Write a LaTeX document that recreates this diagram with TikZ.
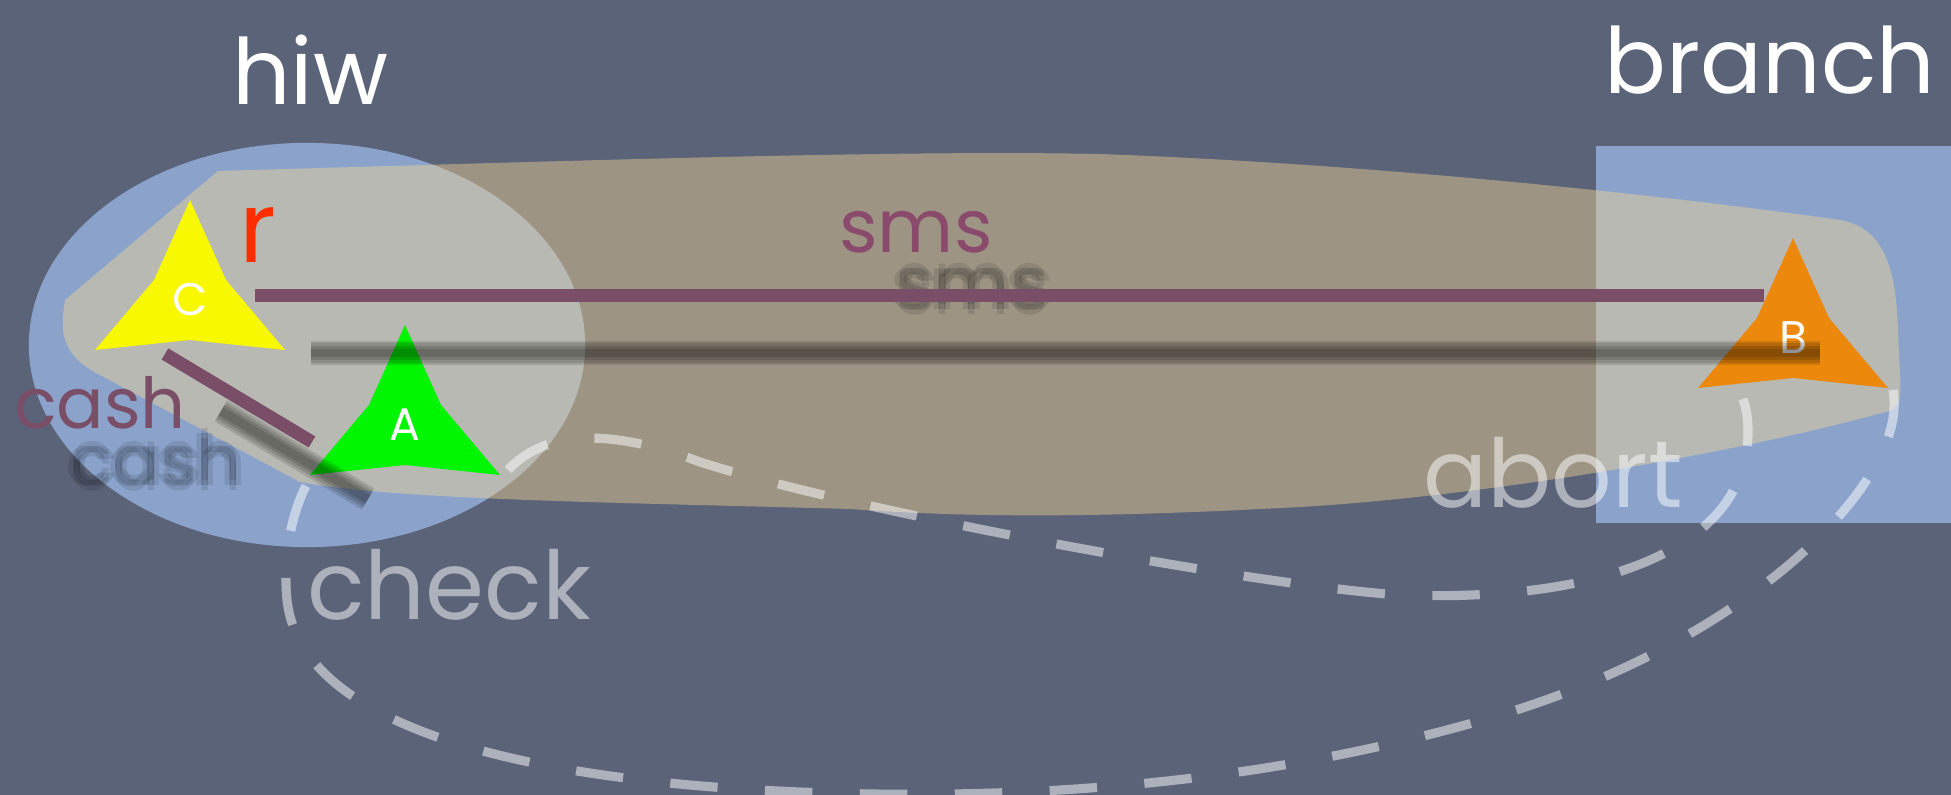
\documentclass[tikz,border=0pt]{standalone}
\usepackage{fontspec}
\setmainfont{Poppins}
\usetikzlibrary{calc}

\definecolor{slate}{RGB}{91,99,120}
\definecolor{hiwblue}{RGB}{139,163,203}
\definecolor{sand}{RGB}{244,214,149}
\definecolor{plum}{RGB}{123,78,104}
\definecolor{plumtext}{RGB}{138,74,108}
\definecolor{chalkred}{RGB}{255,45,0}
\definecolor{agentyellow}{RGB}{248,248,0}
\definecolor{agentgreen}{RGB}{0,245,0}
\definecolor{agentorange}{RGB}{236,136,12}

\tikzset{
  title/.style={text=white, font=\fontsize{26}{30}\selectfont, anchor=base},
  tag/.style={text=white, font=\fontsize{13}{15}\selectfont},
  link/.style={draw=plum, line width=3.7pt},
  linkshadow/.style={draw=black, line width=#1, opacity=0.13},
  hop/.style={draw=white, opacity=0.5, line width=2.6pt, dash pattern=on 13.5pt off 13.5pt},
  hoplabel/.style={text=white, text opacity=0.5, font=\fontsize{27}{30}\selectfont, anchor=base},
  msg/.style={text=plumtext, font=\fontsize{21}{24}\selectfont, anchor=base},
  msgshadow/.style={text=black, text opacity=0.1, anchor=base},
}

% agent: name, centre, colour, letter
\newcommand{\triagent}[4]{%
  \fill[#3,shift={(#2)}] (0,-100) -- (36,-20) -- (95,50) -- (0,40) -- (-95,50) -- (-36,-20) -- cycle;
  \node[tag] (#1) at (#2) {#4};
}

\begin{document}
\begin{tikzpicture}[x=0.01cm,y=-0.01cm]
  \clip (0,0) rectangle (1951,795);
  % Board
  \fill[slate] (0,0) rectangle (1951,795);
  % hiw and branch areas
  \fill[hiwblue] (307,345) ellipse [x radius=2.78cm, y radius=2.02cm];
  \fill[hiwblue] (1596,146) rectangle (1951,523);
  % Shared band
  \fill[sand,opacity=0.43] (218,171) .. controls (600,160) and (900,150) .. (1100,154)
    .. controls (1400,165) and (1700,200) .. (1840,220)
    .. controls (1885,228) and (1896,270) .. (1898,330)
    .. controls (1900,390) and (1905,405) .. (1889,411)
    .. controls (1750,450) and (1500,495) .. (1300,507)
    .. controls (1150,515) and (1000,520) .. (850,509)
    .. controls (600,502) and (400,500) .. (300,482)
    -- (100,375) .. controls (60,355) and (60,330) .. (65,300) -- cycle;
  % Agents
  \triagent{C}{190,300}{agentyellow}{C}
  \triagent{A}{405,425}{agentgreen}{A}
  \triagent{B}{1793,338}{agentorange}{B}
  % check and abort
  \draw[hop] ($(B)+(100,52)$) .. controls (1910,480) and (1750,640) .. (1500,715)
    .. controls (1250,790) and (1000,800) .. (800,792)
    .. controls (500,780) and (300,720) .. (287,600)
    .. controls (283,560) and (290,515) .. ($(A)+(-97,57)$);
  \draw[hop] ($(A)+(103,45)$) .. controls (545,430) and (610,428) .. (700,462)
    .. controls (850,510) and (1250,585) .. (1400,595)
    .. controls (1620,603) and (1750,540) .. (1748,430)
    .. controls (1748,405) and (1740,388) .. ($(B)+(-64,40)$);
  \node[hoplabel] (check) at (449,620) {check};
  \node[hoplabel] (abort) at (1553,508) {abort};
  % Shadows
  \foreach \w in {7pt,5.5pt,4pt,2.5pt} {
    \draw[linkshadow=\w] ($(C)+(121,53)$) -- ($(B)+(27,15)$);
    \draw[linkshadow=\w] ($(C)+(31,111)$) -- ($(A)+(-37,74)$);
  }
  \foreach \dx/\dy in {-5/0,5/0,0/-5,0/5,0/0} {
    \node[msgshadow,font=\fontsize{21}{24}\selectfont] at (972+\dx,310+\dy) {sms};
    \node[msgshadow,font=\fontsize{20}{24}\selectfont] at (156+\dx,486+\dy) {cash};
  }
  % Messages
  \draw[link] ($(C)+(65,-4)$) -- ($(B)+(-29,-42)$);
  \draw[link] ($(C)+(-25,54)$) -- ($(A)+(-93,17)$);
  \node[msg] (sms) at (916,253) {sms};
  \node[msg,text=plum,font=\fontsize{20}{24}\selectfont] (cash) at (100,429) {cash};
  \node[text=chalkred, font=\fontsize{28}{30}\selectfont, anchor=base] (r) at (258,263) {r};
  % Titles
  \node[title] (hiw) at (310,105) {hiw};
  \node[title] (branch) at (1770,94) {branch};
\end{tikzpicture}
\end{document}
